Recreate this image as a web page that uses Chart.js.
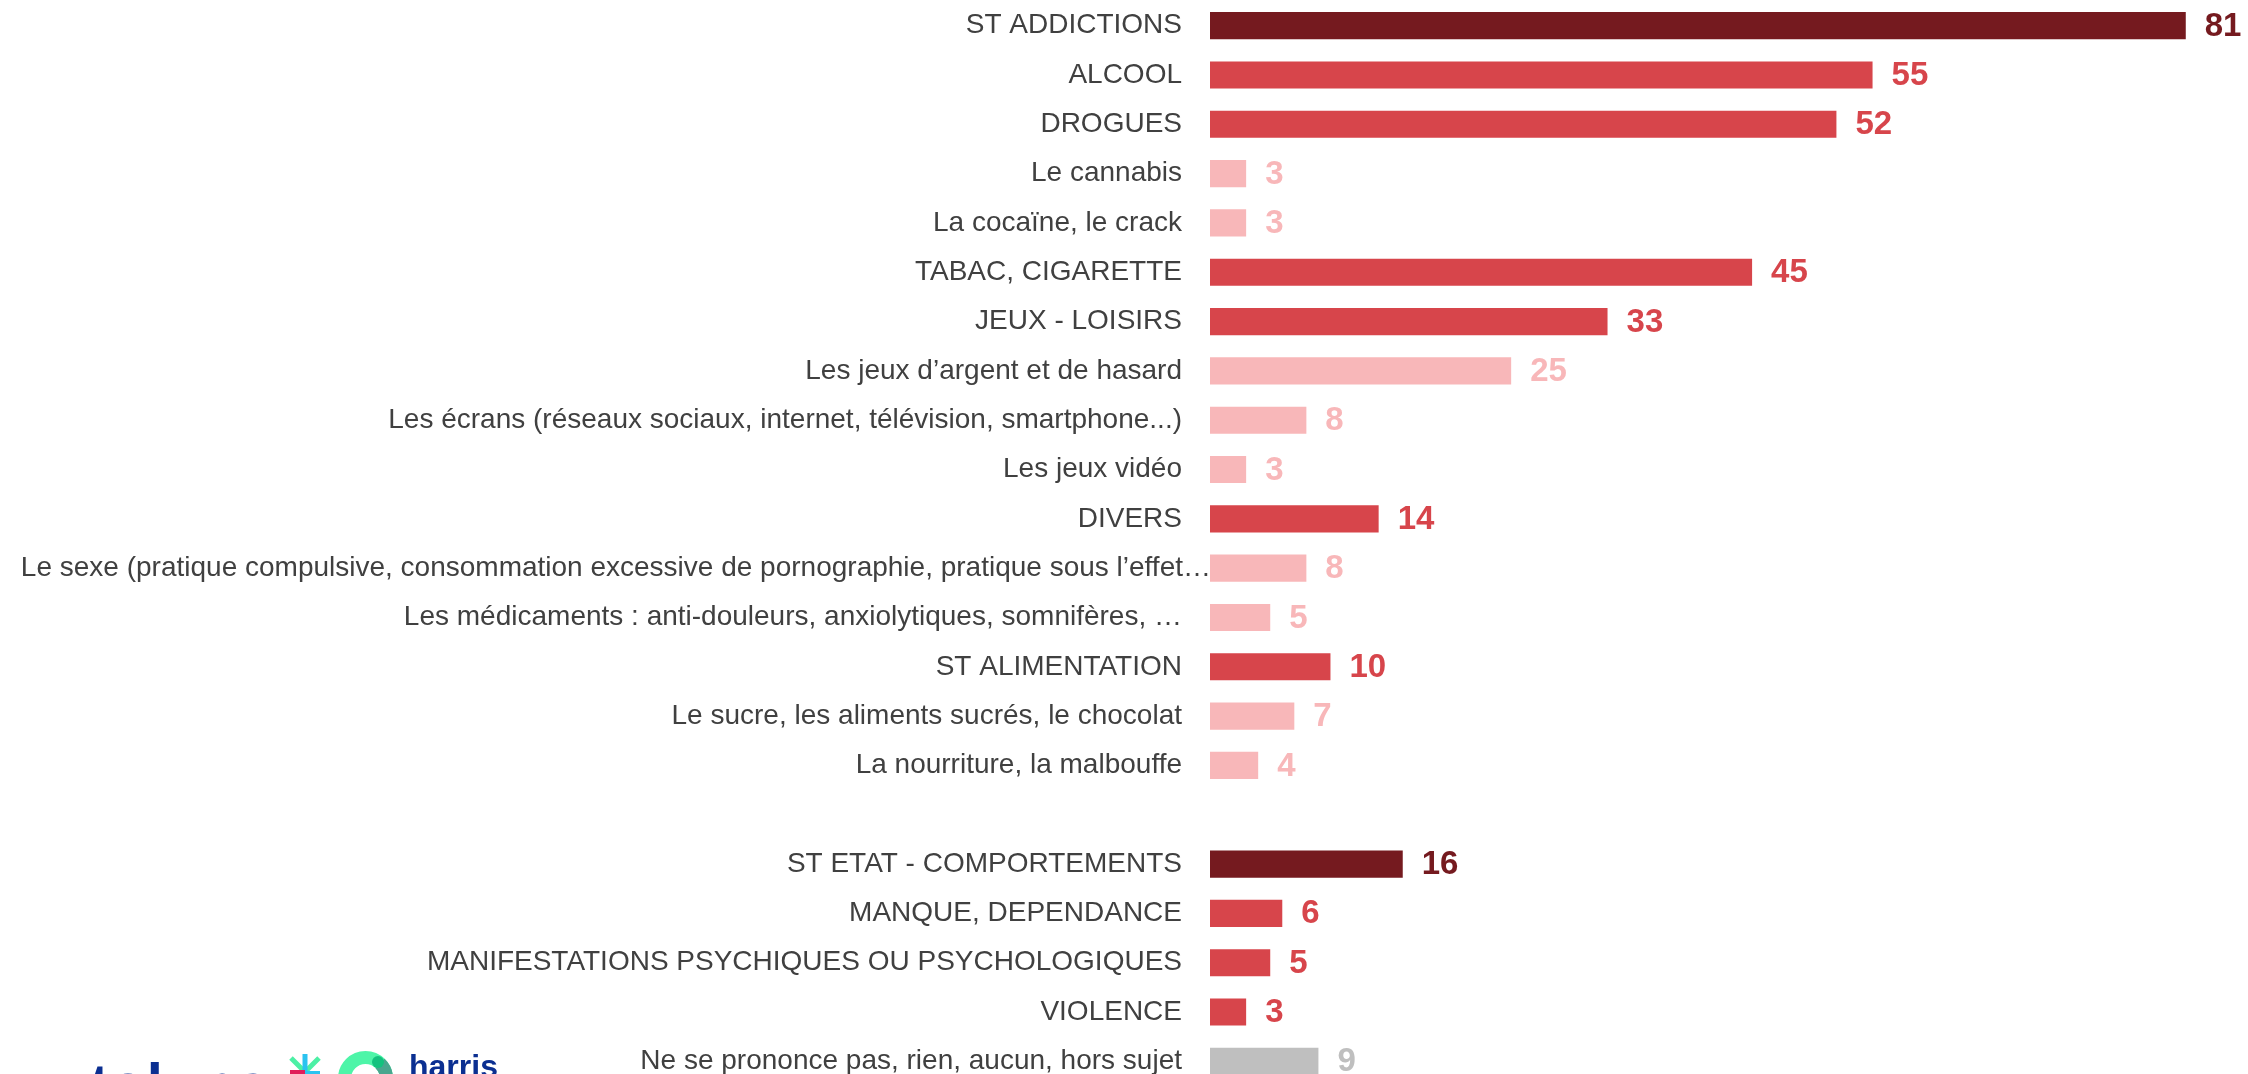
<!DOCTYPE html>
<html>
<head>
<meta charset="utf-8">
<script src="https://cdn.jsdelivr.net/npm/chart.js@4"></script>
<style>
  html, body { margin: 0; padding: 0; background: #fff; overflow: hidden; }
  .wrap { position: relative; width: 2248px; height: 1086px; }
  .logo { position: absolute; left: 0; top: 0; width: 2248px; height: 1074px; overflow: hidden; pointer-events: none; }
  .toluna { position: absolute; left: 90px; top: 1055px; font: bold 58px "Liberation Sans", Arial, sans-serif; line-height: 58px; color: #0b2f91; letter-spacing: 1px; }
  .harris { position: absolute; left: 409px; top: 1050px; font: bold 32px "Liberation Sans", Arial, sans-serif; line-height: 32px; color: #0b2f91; }
</style>
</head>
<body>
<div class="wrap">
  <canvas id="chart"></canvas>
  <div class="logo">
    <span class="toluna">toluna</span>
    <svg style="position:absolute;left:285px;top:1050px" width="120" height="40">
      <line x1="6" y1="8" x2="20" y2="22" stroke="#4cf0a5" stroke-width="5"/>
      <line x1="34" y1="8" x2="20" y2="22" stroke="#4cf0a5" stroke-width="5"/>
      <line x1="20" y1="4" x2="20" y2="30" stroke="#2bc3f0" stroke-width="5"/>
      <rect x="20" y="21" width="15" height="6" fill="#2bc3f0"/>
      <rect x="5" y="20" width="15" height="10" fill="#e01f5a"/>
      <circle cx="80.5" cy="28.5" r="21" fill="none" stroke="#4df5a8" stroke-width="13"/>
      <path d="M 95 13.5 A 21 21 0 0 1 101.5 28.5" fill="none" stroke="#49a68e" stroke-width="13"/>
      <circle cx="93" cy="12" r="6" fill="#13c27e"/>
    </svg>
    <span class="harris">harris</span>
  </div>
</div>
<script>
const labels = [
  "ST ADDICTIONS",
  "ALCOOL",
  "DROGUES",
  "Le cannabis",
  "La cocaïne, le crack",
  "TABAC, CIGARETTE",
  "JEUX - LOISIRS",
  "Les jeux d’argent et de hasard",
  "Les écrans (réseaux sociaux, internet, télévision, smartphone...)",
  "Les jeux vidéo",
  "DIVERS",
  "Le sexe (pratique compulsive, consommation excessive de pornographie, pratique sous l’effet…",
  "Les médicaments : anti-douleurs, anxiolytiques, somnifères, …",
  "ST ALIMENTATION",
  "Le sucre, les aliments sucrés, le chocolat",
  "La nourriture, la malbouffe",
  "",
  "ST ETAT - COMPORTEMENTS",
  "MANQUE, DEPENDANCE",
  "MANIFESTATIONS PSYCHIQUES OU PSYCHOLOGIQUES",
  "VIOLENCE",
  "Ne se prononce pas, rien, aucun, hors sujet"
];
const values = [81, 55, 52, 3, 3, 45, 33, 25, 8, 3, 14, 8, 5, 10, 7, 4, null, 16, 6, 5, 3, 9];
// niveau de chaque ligne : total, sous-total, détail, nsp
const levels = ["st", "sub", "sub", "det", "det", "sub", "sub", "det", "det", "det", "sub", "det", "det", "sub", "det", "det", "", "st", "sub", "sub", "sub", "nsp"];

const levelColors = { st: "#751a1f", sub: "#d7454b", det: "#f8b7b9", nsp: "#bfbfbf", "": "#ffffff" };
const colors = levels.map(l => levelColors[l]);
const longLabel = 11; // label qui déborde sur la barre dans l'original
const textFont = '"Liberation Sans", Arial, sans-serif';

const valueLabels = {
  id: "valueLabels",
  afterDatasetsDraw(chart) {
    const ctx = chart.ctx;
    const meta = chart.getDatasetMeta(0);
    ctx.save();
    ctx.font = "bold 33px " + textFont;
    ctx.textBaseline = "middle";
    ctx.textAlign = "left";
    meta.data.forEach((bar, i) => {
      if (values[i] == null) return;
      ctx.fillStyle = colors[i];
      ctx.fillText(values[i], bar.x + 19, bar.y + 1);
    });
    // long label drawn by hand so it can run up to the bar
    const y = chart.scales.y.getPixelForValue(longLabel);
    ctx.font = "28px " + textFont;
    ctx.fillStyle = "#404040";
    ctx.textAlign = "right";
    ctx.fillText(labels[longLabel], chart.chartArea.left + 1, y);
    ctx.restore();
  }
};

new Chart(document.getElementById("chart"), {
  type: "bar",
  data: {
    labels: labels,
    datasets: [{
      data: values,
      backgroundColor: colors,
      borderWidth: 0,
      barPercentage: 0.55,
      categoryPercentage: 1
    }]
  },
  options: {
    indexAxis: "y",
    responsive: true,
    maintainAspectRatio: false,
    animation: false,
    layout: { padding: { top: 1, right: 2, bottom: 0, left: 0 } },
    plugins: {
      legend: { display: false },
      tooltip: { enabled: false }
    },
    scales: {
      x: { display: false, min: 0, max: 86 },
      y: {
        grid: { display: false, drawTicks: false },
        border: { display: false },
        afterFit(scale) {
          scale.width = 1210;
          scale.paddingTop = 0;
          scale.paddingBottom = 0;
        },
        ticks: {
          padding: 28,
          color: "#404040",
          font: { size: 28, family: textFont },
          autoSkip: false,
          callback: (v, i) => (i === longLabel ? "" : labels[i])
        }
      }
    }
  },
  plugins: [valueLabels]
});
</script>
</body>
</html>
